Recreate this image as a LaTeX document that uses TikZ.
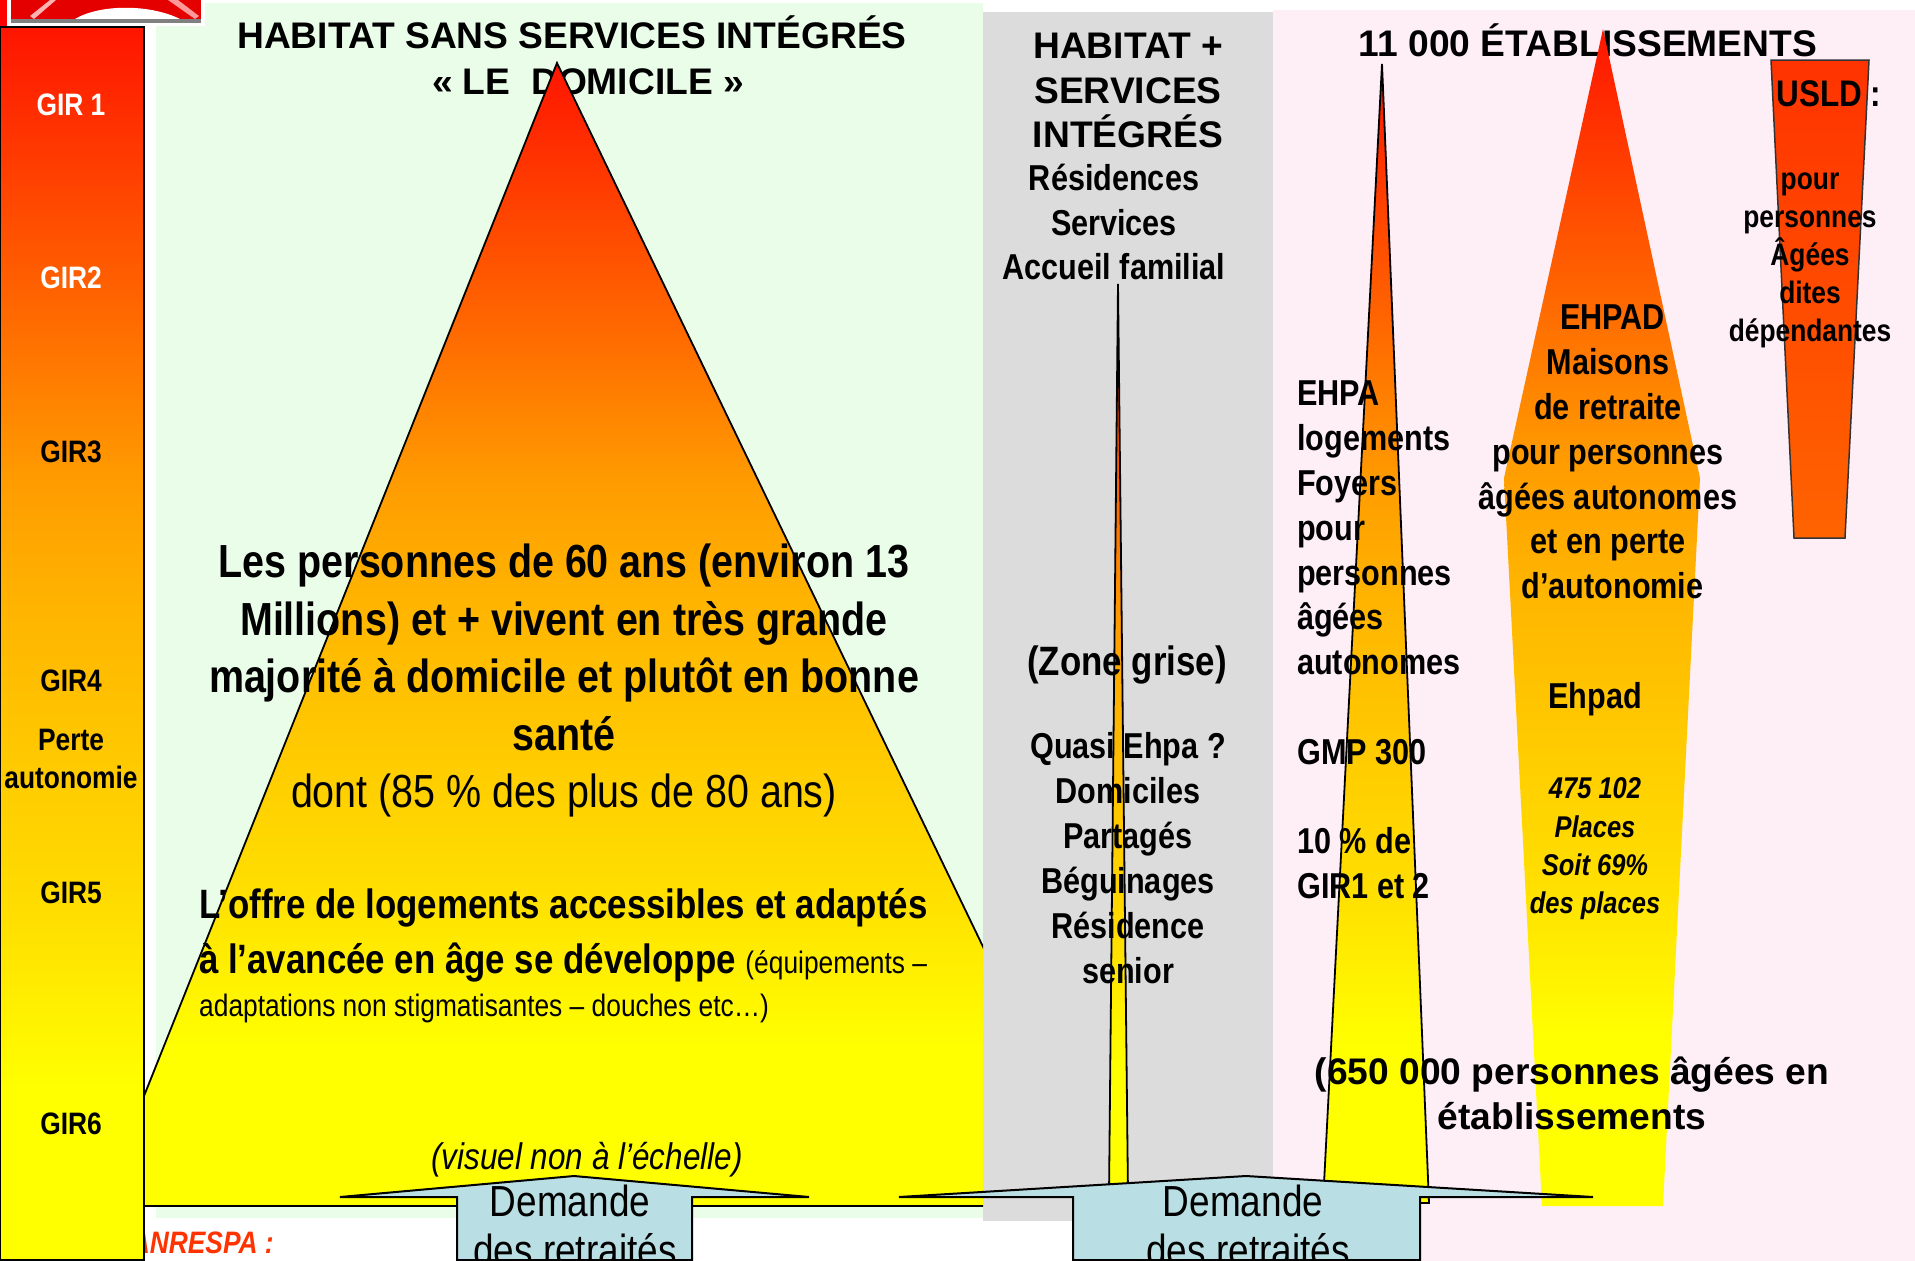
\documentclass[tikz,border=0pt]{standalone}
\usepackage{fontspec}
\setmainfont{Liberation Sans}
\newfontfamily\fca[FakeStretch=0.85]{Liberation Sans}
\newfontfamily\fcb[FakeStretch=1.005]{Liberation Sans}
\newcommand{\fsz}[2]{\fontsize{#1}{#2}\selectfont}
\pgfdeclareverticalshading{grad}{100bp}{rgb(0bp)=(1,1,0); rgb(32bp)=(1,1,0); rgb(39bp)=(1,0.87,0); rgb(51.5bp)=(1,0.706,0); rgb(56.75bp)=(1,0.608,0); rgb(64bp)=(1,0.392,0); rgb(75bp)=(1,0.08,0); rgb(100bp)=(1,0.08,0)}
\pgfdeclareverticalshading{usldgrad}{100bp}{rgb(0bp)=(1,0.39,0); rgb(25bp)=(1,0.39,0); rgb(75bp)=(1,0.2,0); rgb(100bp)=(1,0.2,0)}
\definecolor{bggreen}{HTML}{E9FDE9}
\definecolor{bggray}{HTML}{DCDCDC}
\definecolor{bgpink}{HTML}{FEEEF6}
\definecolor{arrowblue}{HTML}{B9DFE4}
\definecolor{redorange}{HTML}{FF3300}
\tikzset{
  pyramid/.style={draw=black,line width=1.8pt,shading=grad},
  demand/.style={draw=black,line width=2pt,fill=arrowblue,miter limit=20},
  txt/.style={align=center,inner sep=0pt,font=\fca\bfseries},
  txtl/.style={align=left,inner sep=0pt,font=\fca\bfseries},
  gir/.style={inner sep=0pt,font=\fca\bfseries\fsz{31}{38},align=center},
}
\begin{document}
\begin{tikzpicture}[x=1pt,y=-1pt]
\useasboundingbox (0,0) rectangle (1915,1261);
\fill[white] (0,0) rectangle (1915,1261);
% backgrounds
\fill[bggreen] (156,3) rectangle (983,1218);
\fill[bgpink] (1273,10) rectangle (1915,1261);
\fill[bggray] (983,12) rectangle (1273,1221);
% logo
\fill[red] (0,0) rectangle (7,26);
\fill[white] (7,0) rectangle (205,26);
\fill[red!90!black] (11,0) rectangle (201,21);
\fill[white] (75,19) .. controls (100,4) and (150,4) .. (180,19) -- cycle;
\fill[white!70!red] (30,16) -- (50,0) -- (56,0) -- (34,19) -- cycle;
\fill[white!60!red] (168,0) -- (178,0) -- (199,16) -- (195,19) -- cycle;
\fill[black!50] (11,19) rectangle (201,23);
% titles behind the shapes
\node[txt,font=\fcb\bfseries\fsz{37}{45.5}] (t1) at (572,55.5) {HABITAT SANS SERVICES INTÉGRÉS\\[0pt]\hspace*{32pt}« LE\ \ DOMICILE »};
\node[txt,font=\fcb\bfseries\fsz{37}{45}] (t3) at (1588,40.5) {11 000 ÉTABLISSEMENTS};
\node[txtl,font=\fca\bfseries\itshape\fsz{31}{38},text=redorange,anchor=east] (anr) at (274,1243) {ANRESPA :};
% main pyramid
\begin{scope}
\clip (0,0) rectangle (983,1261);
\draw[pyramid] (557,63) -- (1108,1206) -- (100,1206) -- cycle;
\end{scope}
% bar
\draw[line width=1.8pt,shading=grad] (0,27) rectangle (144,1260);
% narrow pyramids
\draw[pyramid] (1118,284) -- (1128,1195) -- (1109,1195) -- cycle;
\draw[pyramid] (1382,64) -- (1429,1203) -- (1323,1203) -- cycle;
% EHPAD shape
\shade[shading=grad] (1603,29) -- (1700,478) -- (1663,1206) -- (1542,1206) -- (1504,478) -- cycle;
% USLD
\draw[black!80,line width=1.5pt,shading=usldgrad] (1771,60) -- (1869,60) -- (1845,538) -- (1794,538) -- cycle;
% arrows
\draw[demand] (574,1176) -- (809,1197) -- (692,1197) -- (692,1260) -- (457,1260) -- (457,1197) -- (340,1197) -- cycle;
\draw[demand] (1246,1176) -- (1593,1197) -- (1420,1197) -- (1420,1260) -- (1073,1260) -- (1073,1197) -- (899,1197) -- cycle;
% bar labels
\node[gir,text=white] (g1) at (71,105) {GIR 1};
\node[gir,text=white] (g2) at (71,278) {GIR2};
\node[gir] (g3) at (71,452) {GIR3};
\node[gir] (g4) at (71,681) {GIR4};
\node[gir] (g4b) at (71,759) {Perte\\autonomie};
\node[gir] (g5) at (71,893) {GIR5};
\node[gir] (g6) at (71,1124) {GIR6};
% central text
\node[txt,font=\fca\bfseries\fsz{46.4}{57.8}] (m1) at (564,647.5) {Les personnes de 60 ans (environ 13\\Millions) et + vivent en très grande\\majorité à domicile et plutôt en bonne\\santé};
\node[txt,font=\fca\fsz{46.4}{57.8}] (m2) at (564,795) {dont (85 \% des plus de 80 ans)};
\node[txtl,anchor=west,font=\fca\bfseries\fsz{41}{50}] (p1) at (199,908) {L’offre de logements accessibles et adaptés};
\node[txtl,anchor=west,font=\fca\bfseries\fsz{41}{50}] (p2) at (199,963) {à l’avancée en âge se développe {\mdseries\fsz{31}{38}(équipements –}};
\node[txtl,anchor=west,font=\fca\fsz{31}{38}] (p3) at (199,1008) {adaptations non stigmatisantes – douches etc…)};
\node[txt,font=\fca\itshape\fsz{37}{44}] (vis) at (587,1160) {(visuel non à l’échelle)};
\node[txt,font=\fca\fsz{43.5}{49}] (d1) at (570,1225.5) {Demande\\\hspace*{10pt}des retraités};
\node[txt,font=\fca\fsz{43.5}{49}] (d2) at (1243,1225.5) {Demande\\\hspace*{10pt}des retraités};
% grey column
\node[txt,font=\fcb\bfseries\fsz{37}{44.7}] (h1) at (1128,90.5) {HABITAT +\\SERVICES\\INTÉGRÉS};
\node[txt,font=\fca\bfseries\fsz{36}{44.4}] (h2) at (1114,222) {Résidences\\Services\\Accueil familial};
\node[txt,font=\fca\bfseries\fsz{41}{50}] (z) at (1127,665) {(Zone grise)};
\node[txt,font=\fca\bfseries\fsz{36}{45}] (q) at (1128,858) {Quasi Ehpa ?\\Domiciles\\Partagés\\Béguinages\\Résidence\\senior};
% pink column
\node[txtl,anchor=north west,font=\fca\bfseries\fsz{36}{44.8}] (e1) at (1297,381) {EHPA\\logements\\Foyers\\pour\\personnes\\âgées\\autonomes\\[44.8pt]GMP 300\\[44.8pt]10 \% de\\GIR1 et 2};
\node[txt,font=\fca\bfseries\fsz{36}{44.8}] (e2) at (1608,452) {\hspace*{9pt}EHPAD\\Maisons\\de retraite\\pour personnes\\âgées autonomes\\et en perte\\\hspace*{9pt}d’autonomie};
\node[txt,font=\fca\bfseries\fsz{36}{44}] (e3) at (1595,699) {Ehpad};
\node[txt,font=\fca\bfseries\itshape\fsz{30}{38.3}] (e4) at (1595,849) {475 102\\Places\\Soit 69\%\\des places};
\node[txt,font=\fcb\bfseries\fsz{37}{45}] (e5) at (1572,1093.5) {(650 000 personnes âgées en\\établissements};
\node[txt,font=\fca\bfseries\fsz{37}{45}] (u1) at (1829,94) {USLD :};
\node[txt,font=\fca\bfseries\fsz{31}{38}] (u2) at (1810,260) {pour\\personnes\\Âgées\\dites\\dépendantes};
\end{tikzpicture}
\end{document}
